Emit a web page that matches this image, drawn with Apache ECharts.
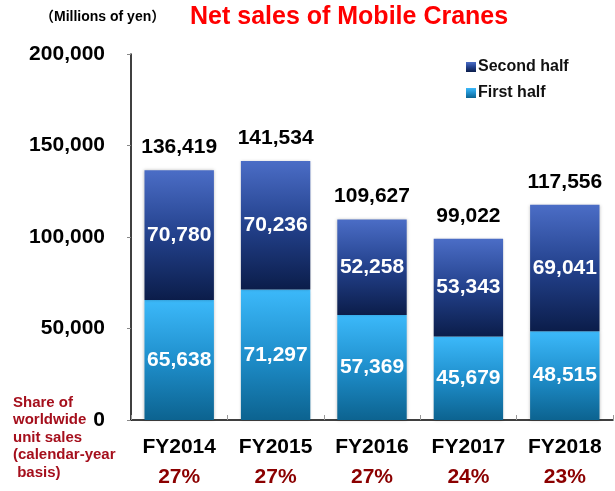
<!DOCTYPE html>
<html>
<head>
<meta charset="utf-8">
<script src="https://cdn.jsdelivr.net/npm/echarts@6/dist/echarts.min.js"></script>
<style>
html,body{margin:0;padding:0;background:#fff;}
#chart{width:615px;height:491px;}
</style>
</head>
<body>
<div id="chart"></div>
<script>
var categories = ['FY2014', 'FY2015', 'FY2016', 'FY2017', 'FY2018'];
var firstHalf = [65638, 71297, 57369, 45679, 48515];
var secondHalf = [70780, 70236, 52258, 53343, 69041];
var totals = [136419, 141534, 109627, 99022, 117556];
var shares = ['27%', '27%', '27%', '24%', '23%'];
var yTicks = [0, 50000, 100000, 150000, 200000];

var FONT = '"Liberation Sans", Arial, "Noto Sans CJK JP", sans-serif';
function fmt(v) { return v.toLocaleString('en-US'); }

var chart = echarts.init(document.getElementById('chart'), null, {renderer: 'canvas'});

var gradSecond = new echarts.graphic.LinearGradient(0, 0, 0, 1, [
  {offset: 0, color: '#4b6dc6'},
  {offset: 0.5, color: '#23418c'},
  {offset: 1, color: '#0b1d4a'}
]);
var gradFirst = new echarts.graphic.LinearGradient(0, 0, 0, 1, [
  {offset: 0, color: '#3cb9fa'},
  {offset: 0.5, color: '#1f8fcc'},
  {offset: 1, color: '#0c6390'}
]);

chart.setOption({
  animation: false,
  textStyle: {fontFamily: FONT},
  title: [
    {
      text: 'Net sales of Mobile Cranes',
      left: 185, top: 0,
      textStyle: {color: '#ff0000', fontSize: 25, fontWeight: 'bold', fontFamily: FONT}
    },
    {
      text: '（Millions of yen）',
      left: 35, top: 5,
      textStyle: {color: '#000', fontSize: 14, fontWeight: 'bold', fontFamily: FONT}
    },
    {
      text: 'Share of\nworldwide\nunit sales\n(calendar-year\n basis)',
      left: 13, top: 394, padding: 0,
      textStyle: {color: '#a50f1c', fontSize: 15, fontWeight: 'bold', lineHeight: 17.5, fontFamily: FONT}
    }
  ],
  legend: {
    data: ['Second half', 'First half'],
    orient: 'vertical',
    left: 461, top: 54,
    itemWidth: 10, itemHeight: 10, itemGap: 10,
    icon: 'rect',
    textStyle: {color: '#111', fontSize: 16, fontWeight: 'bold', fontFamily: FONT, padding: [0, 0, 0, -3]}
  },
  grid: {left: 131, right: 2, top: 54, bottom: 71, containLabel: false, outerBoundsMode: 'none'},
  xAxis: {
    type: 'category',
    data: categories,
    axisLine: {lineStyle: {color: '#000', width: 1.5}},
    axisTick: {show: true, inside: true, length: 5, lineStyle: {color: '#999'}},
    axisLabel: {
      margin: 15,
      formatter: function (v, i) { return '{a|' + v + '}\n{b|' + shares[i] + '}'; },
      rich: {
        a: {fontSize: 21, fontWeight: 'bold', color: '#000', fontFamily: FONT, lineHeight: 24},
        b: {fontSize: 21, fontWeight: 'bold', color: '#8b0000', fontFamily: FONT, lineHeight: 37}
      }
    }
  },
  yAxis: {
    type: 'value',
    min: yTicks[0], max: yTicks[yTicks.length - 1], interval: 50000,
    axisLine: {show: true, lineStyle: {color: '#000', width: 1.5}},
    axisTick: {show: true, length: 4, lineStyle: {color: '#888'}},
    splitLine: {show: false},
    axisLabel: {
      margin: 26,
      color: '#000', fontSize: 21, fontWeight: 'bold', fontFamily: FONT,
      formatter: function (v) { return fmt(v); }
    }
  },
  series: [
    {
      name: 'First half',
      type: 'bar',
      stack: 'sales',
      barWidth: '72%',
      data: firstHalf,
      itemStyle: {color: gradFirst, shadowBlur: 3, shadowColor: 'rgba(0,0,0,0.25)'},
      label: {
        show: true, position: 'inside',
        color: '#fff', fontSize: 21, fontWeight: 'bold', fontFamily: FONT,
        formatter: function (p) { return fmt(p.value); }
      }
    },
    {
      name: 'Second half',
      type: 'bar',
      stack: 'sales',
      data: secondHalf,
      itemStyle: {color: gradSecond, shadowBlur: 3, shadowColor: 'rgba(0,0,0,0.25)'},
      label: {
        show: true, position: 'inside',
        color: '#fff', fontSize: 21, fontWeight: 'bold', fontFamily: FONT,
        formatter: function (p) { return fmt(p.value); }
      }
    },
    {
      name: 'Total',
      type: 'line',
      data: totals,
      symbol: 'circle',
      symbolSize: 1,
      showSymbol: true,
      itemStyle: {color: 'rgba(0,0,0,0)', borderWidth: 0},
      lineStyle: {width: 0, color: 'rgba(0,0,0,0)'},
      silent: true,
      z: 10,
      label: {
        show: true, position: 'top', distance: 12,
        color: '#000', fontSize: 21, fontWeight: 'bold', fontFamily: FONT,
        formatter: function (p) { return fmt(p.value); }
      }
    }
  ]
});
</script>
</body>
</html>
